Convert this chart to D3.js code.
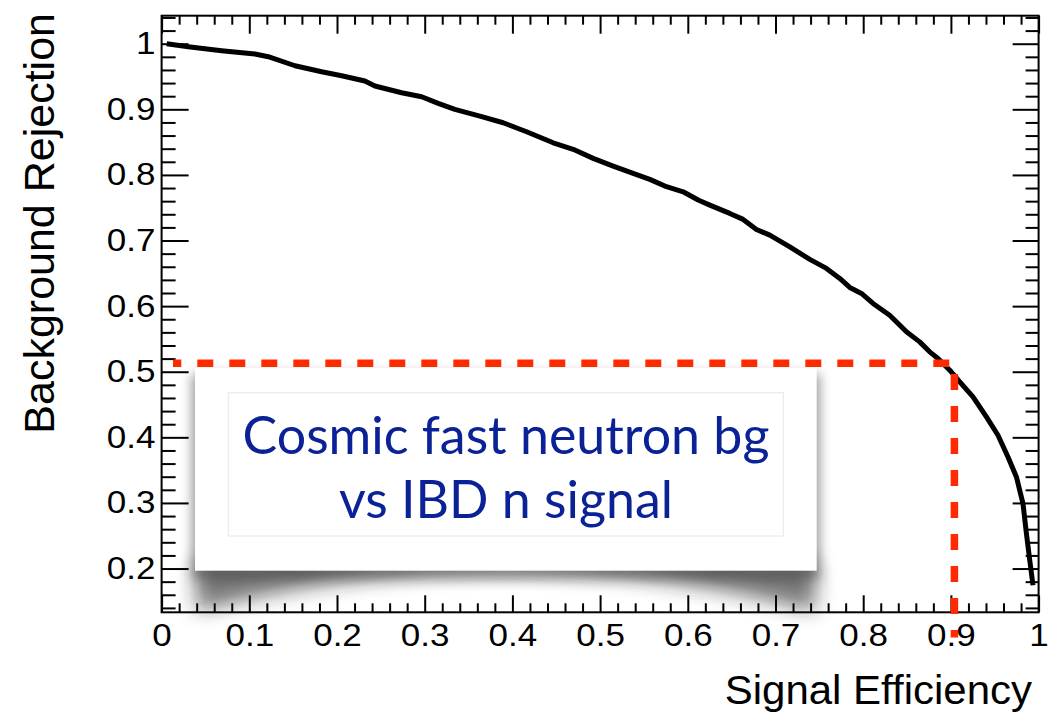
<!DOCTYPE html>
<html>
<head>
<meta charset="utf-8">
<script src="https://cdn.jsdelivr.net/npm/d3@7"></script>
<style>
  html, body { margin: 0; padding: 0; background: #fff; }
  svg { display: block; }
</style>
</head>
<body>
<svg id="chart" width="1048" height="713"></svg>
<script>
// ROC curve: signal efficiency vs background rejection
const efficiency = [0.0058, 0.0304, 0.0685, 0.1065, 0.1216, 0.1521, 0.1825, 0.2053, 0.2318, 0.2432,
  0.2737, 0.2965, 0.3154, 0.3344, 0.3629, 0.3895, 0.4162, 0.4465, 0.4693, 0.4921,
  0.5149, 0.5377, 0.5567, 0.5757, 0.5947, 0.6118, 0.6251, 0.6479, 0.6631, 0.6783,
  0.6935, 0.7163, 0.7391, 0.7581, 0.7733, 0.7847, 0.7980, 0.8112, 0.8302, 0.8493,
  0.8644, 0.8758, 0.8853, 0.8987, 0.9101, 0.9252, 0.9405, 0.9537, 0.9651, 0.9747,
  0.9822, 0.9861, 0.9899, 0.9936];
const rejection = [1.0000, 0.9954, 0.9893, 0.9843, 0.9802, 0.9664, 0.9573, 0.9512, 0.9431, 0.9355,
  0.9253, 0.9192, 0.9091, 0.9000, 0.8897, 0.8795, 0.8658, 0.8490, 0.8390, 0.8252,
  0.8135, 0.8024, 0.7932, 0.7820, 0.7743, 0.7617, 0.7540, 0.7413, 0.7322, 0.7169,
  0.7082, 0.6904, 0.6712, 0.6575, 0.6422, 0.6285, 0.6193, 0.6041, 0.5862, 0.5608,
  0.5455, 0.5303, 0.5202, 0.5024, 0.4846, 0.4617, 0.4311, 0.4032, 0.3701, 0.3396,
  0.2991, 0.2533, 0.2126, 0.1745];

const xTicks = [0, 0.1, 0.2, 0.3, 0.4, 0.5, 0.6, 0.7, 0.8, 0.9, 1];
const xTickLabels = ["0", "0.1", "0.2", "0.3", "0.4", "0.5", "0.6", "0.7", "0.8", "0.9", "1"];
const yTicks = [0.2, 0.3, 0.4, 0.5, 0.6, 0.7, 0.8, 0.9, 1];
const yTickLabels = ["0.2", "0.3", "0.4", "0.5", "0.6", "0.7", "0.8", "0.9", "1"];

// working point marked by the dashed guide
const cutEfficiency = 0.904;
const cutRejection = 0.513;
const guideStartEff = 0.013;
const guideEndRej = 0.095;

const noteLines = ["Cosmic fast neutron bg", "vs IBD n signal"];

const xTitle = "Signal Efficiency";
const yTitle = "Background Rejection";

// ---------------------------------------------------------------
const svg = d3.select("#chart");
const x = d3.scaleLinear().domain([0, 1]).range([161.6, 1038.6]);
const y = d3.scaleLinear().domain([0.1333, 1.0427]).range([612.3, 15.7]);

const [x0, x1] = x.range();
const [y0, y1] = y.range();

const xMinor = d3.range(0, 51).map(i => +(i * 0.02).toFixed(2)).filter(v => !xTicks.includes(v));
const yMinor = d3.range(7, 53).map(i => +(i * 0.02).toFixed(2)).filter(v => !yTicks.map(t => +t.toFixed(2)).includes(v));

const axisFont = "'Liberation Sans', Arial, Helvetica, sans-serif";
const labelStretch = 1.13;

function styleAxis(g) {
  g.select(".domain").remove();
  g.selectAll(".tick line").attr("stroke", "#000").attr("stroke-width", 2);
  g.selectAll(".tick text").attr("fill", "#000")
    .attr("transform", `scale(${labelStretch},1)`)
    .style("font-family", axisFont).style("font-size", "31px");
}

// bottom axis
svg.append("g").attr("transform", `translate(0,${y0})`)
  .call(d3.axisBottom(x).tickValues(xMinor).tickSize(-9).tickFormat(""))
  .call(styleAxis);
svg.append("g").attr("transform", `translate(0,${y0})`)
  .call(d3.axisBottom(x).tickValues(xTicks).tickSize(-17).tickPadding(12)
    .tickFormat((d, i) => xTickLabels[i]))
  .call(styleAxis);

// top axis
svg.append("g").attr("transform", `translate(0,${y1})`)
  .call(d3.axisTop(x).tickValues(xMinor).tickSize(-9).tickFormat(""))
  .call(styleAxis);
svg.append("g").attr("transform", `translate(0,${y1})`)
  .call(d3.axisTop(x).tickValues(xTicks).tickSize(-18).tickFormat(""))
  .call(styleAxis);

// left axis
svg.append("g").attr("transform", `translate(${x0},0)`)
  .call(d3.axisLeft(y).tickValues(yMinor).tickSize(-14).tickFormat(""))
  .call(styleAxis);
svg.append("g").attr("transform", `translate(${x0},0)`)
  .call(d3.axisLeft(y).tickValues(yTicks).tickSize(-27).tickPadding(5.5)
    .tickFormat((d, i) => yTickLabels[i]))
  .call(styleAxis);

// right axis
svg.append("g").attr("transform", `translate(${x1},0)`)
  .call(d3.axisRight(y).tickValues(yMinor).tickSize(-13).tickFormat(""))
  .call(styleAxis);
svg.append("g").attr("transform", `translate(${x1},0)`)
  .call(d3.axisRight(y).tickValues(yTicks).tickSize(-26).tickFormat(""))
  .call(styleAxis);

// frame
svg.append("rect")
  .attr("x", x0).attr("y", y1).attr("width", x1 - x0).attr("height", y0 - y1)
  .attr("fill", "none").attr("stroke", "#000").attr("stroke-width", 2);

// axis titles
svg.append("text")
  .attr("transform", "translate(1032,704) scale(1.05,1)")
  .attr("text-anchor", "end")
  .style("font-family", axisFont).style("font-size", "40px")
  .text(xTitle);

svg.append("text")
  .attr("transform", "translate(54,13) rotate(-90)")
  .attr("text-anchor", "end")
  .style("font-family", axisFont).style("font-size", "43px")
  .text(yTitle);

// ROC curve
const curve = efficiency.map((e, i) => [e, rejection[i]]);
svg.append("path")
  .datum(curve)
  .attr("fill", "none")
  .attr("stroke", "#000")
  .attr("stroke-width", 5)
  .attr("stroke-linejoin", "round")
  .attr("d", d3.line().x(d => x(d[0])).y(d => y(d[1])));

// note box with lifted-paper shadow
const defs = svg.append("defs");
defs.append("filter").attr("id", "softSide")
  .attr("x", "-20%").attr("y", "-20%").attr("width", "140%").attr("height", "140%")
  .append("feGaussianBlur").attr("stdDeviation", 6);
defs.append("filter").attr("id", "softCurl")
  .attr("x", "-20%").attr("y", "-80%").attr("width", "140%").attr("height", "260%")
  .append("feGaussianBlur").attr("stdDeviation", 10);

const box = { x: 195, y: 368, w: 621.7, h: 202.7 };
const bx1 = box.x + box.w, by1 = box.y + box.h, bmid = box.x + box.w / 2;

const note = svg.append("g");
note.append("rect")
  .attr("x", box.x - 3).attr("y", box.y + 6)
  .attr("width", box.w + 6).attr("height", box.h + 2)
  .attr("fill", "#000").attr("opacity", 0.4)
  .attr("filter", "url(#softSide)");
note.append("path")
  .attr("d", `M${box.x},${by1 - 8} L${bx1},${by1 - 8} L${bx1 - 2},${by1 + 40}
              Q${bmid},${by1 - 40} ${box.x + 2},${by1 + 40} Z`)
  .attr("fill", "#1a1a1a").attr("opacity", 0.6)
  .attr("filter", "url(#softCurl)");
note.append("rect")
  .attr("x", box.x).attr("y", box.y).attr("width", box.w).attr("height", box.h)
  .attr("fill", "#fff");
note.append("rect")
  .attr("x", 228.3).attr("y", 392.7).attr("width", 555).attr("height", 143.3)
  .attr("fill", "none").attr("stroke", "#ebebeb").attr("stroke-width", 1.2);

const noteFont = "Lato, 'Open Sans', 'Noto Sans', sans-serif";
const noteText = note.selectAll("text.note").data(noteLines).join("text")
  .attr("class", "note")
  .attr("x", 506)
  .attr("y", (d, i) => [454, 518.3][i])
  .attr("text-anchor", "middle")
  .attr("fill", "#0b2196")
  .style("font-family", noteFont)
  .style("font-size", "54px")
  .text(d => d);
// size the note so the first line spans the inner panel width
const firstLen = noteText.node().getComputedTextLength();
if (firstLen > 0) noteText.style("font-size", (54 * 527 / firstLen).toFixed(1) + "px");

// dashed guide to the working point
const guide = [[guideStartEff, cutRejection], [cutEfficiency, cutRejection], [cutEfficiency, guideEndRej]];
svg.append("path")
  .datum(guide)
  .attr("fill", "none")
  .attr("stroke", "#ff2a00")
  .attr("stroke-width", 7.5)
  .attr("stroke-dasharray", "16,16")
  .attr("stroke-dashoffset", 7.7)
  .attr("d", d3.line().x(d => x(d[0])).y(d => y(d[1])));
</script>
</body>
</html>
